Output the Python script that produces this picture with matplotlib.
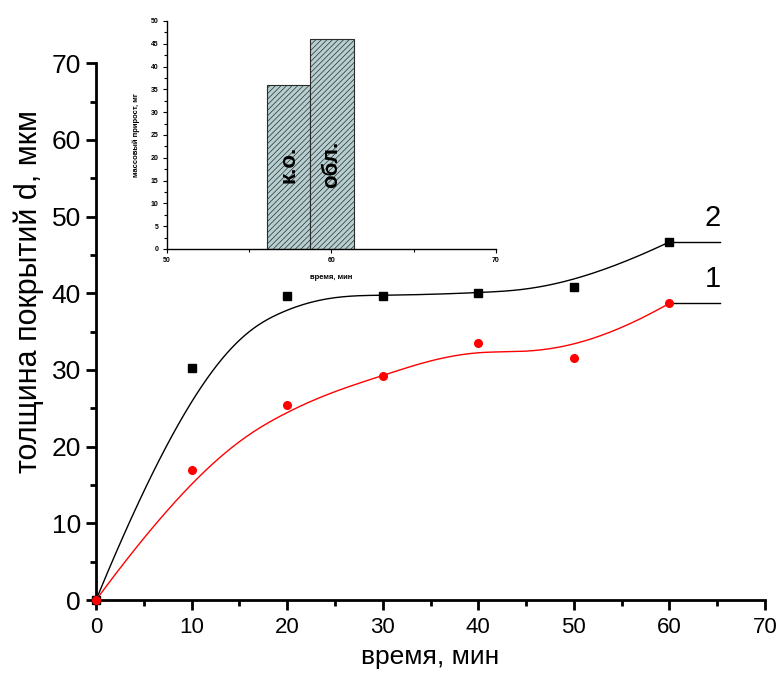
import matplotlib
matplotlib.use("Agg")
import matplotlib.pyplot as plt
import numpy as np
from matplotlib.ticker import MultipleLocator

plt.rcParams['font.family'] = ['Liberation Sans', 'DejaVu Sans']
plt.rcParams['hatch.linewidth'] = 0.5

# Data
time_min = [0, 10, 20, 30, 40, 50, 60]
thick_2 = [0, 30.3, 39.7, 39.7, 40.0, 40.8, 46.7]
thick_1 = [0, 16.9, 25.4, 29.2, 33.5, 31.6, 38.7]
curve_labels = ["1", "2"]
curve_end = 65.3

bar_left = [56.1, 58.7]
bar_width = [2.6, 2.65]
bar_mass = [36, 46]
bar_labels = ["к.о.", "обл."]


def bspline(cx, cy, k=3, n=400):
    # clamped cubic B-spline using the points as control points
    cx = np.asarray(cx, float)
    cy = np.asarray(cy, float)
    m = len(cx)
    knots = np.concatenate([np.zeros(k), np.linspace(0, 1, m - k + 1), np.ones(k)])
    t = np.linspace(0, 1, n)
    t[-1] -= 1e-9
    B = np.zeros((n, len(knots) - 1))
    for i in range(len(knots) - 1):
        B[:, i] = (t >= knots[i]) & (t < knots[i + 1])
    for d in range(1, k + 1):
        Bn = np.zeros((n, len(knots) - 1 - d))
        for i in range(len(knots) - 1 - d):
            a = knots[i + d] - knots[i]
            b = knots[i + d + 1] - knots[i + 1]
            left = (t - knots[i]) / a * B[:, i] if a > 0 else 0
            right = (knots[i + d + 1] - t) / b * B[:, i + 1] if b > 0 else 0
            Bn[:, i] = left + right
        B = Bn
    return B @ cx, B @ cy


fig = plt.figure(figsize=(7.77, 6.76), dpi=100)
ax = fig.add_axes([0.1236, 0.1124, 0.861, 0.794])

for y, col, mk, lab in [(thick_2, 'black', 's', curve_labels[1]),
                        (thick_1, 'red', 'o', curve_labels[0])]:
    sx, sy = bspline(time_min, y)
    ax.plot(sx, sy, color=col, lw=1.0)
    ax.plot(time_min, y, ls='none', marker=mk, color=col, ms=5.5, zorder=3)
    ax.plot([time_min[-1], curve_end], [y[-1], y[-1]], color='black', lw=1.0)
    ax.text(time_min[-1] + 4.5, y[-1] + 1.3, lab, fontsize=21, ha='center', va='bottom')

ax.set_xlim(0, 70)
ax.set_ylim(0, 70)
ax.xaxis.set_major_locator(MultipleLocator(10))
ax.xaxis.set_minor_locator(MultipleLocator(5))
ax.yaxis.set_major_locator(MultipleLocator(10))
ax.yaxis.set_minor_locator(MultipleLocator(5))
for s in ['top', 'right']:
    ax.spines[s].set_visible(False)
for s in ['left', 'bottom']:
    ax.spines[s].set_linewidth(2)
ax.tick_params(which='major', length=7, width=2, direction='out')
ax.tick_params(which='minor', length=4, width=2, direction='out')
ax.tick_params(axis='y', labelsize=19, pad=4)
ax.tick_params(axis='x', labelsize=16, pad=5)
ax.set_xlabel("время, мин", fontsize=19, labelpad=5)
ax.set_ylabel("толщина покрытий d, мкм", fontsize=22)
ax.yaxis.set_label_coords(-0.078, 0.575)
for ln in ax.lines:
    ln.set_clip_on(False)

# inset bar chart
ins = fig.add_axes([0.2149, 0.6317, 0.4234, 0.3373])
ins.bar(bar_left, bar_mass, width=bar_width, align='edge', color='#b6cfd1',
        edgecolor='#2b2b2b', hatch='//////', lw=0.8)
for x0, w, lab in zip(bar_left, bar_width, bar_labels):
    ins.text(x0 + w / 2, 18.6, lab, rotation=90, ha='center', va='center',
             fontsize=16, fontweight='bold')
ins.set_xlim(50, 70)
ins.set_ylim(0, 50)
ins.xaxis.set_major_locator(MultipleLocator(10))
ins.xaxis.set_minor_locator(MultipleLocator(5))
ins.yaxis.set_major_locator(MultipleLocator(5))
ins.yaxis.set_minor_locator(MultipleLocator(2.5))
for s in ['top', 'right']:
    ins.spines[s].set_visible(False)
for s in ['left', 'bottom']:
    ins.spines[s].set_linewidth(1)
ins.tick_params(which='major', length=3, width=0.8, labelsize=5, pad=3)
ins.tick_params(which='minor', length=2, width=0.8)
for lb in ins.get_xticklabels() + ins.get_yticklabels():
    lb.set_fontweight('bold')
ins.set_xlabel("время, мин", fontsize=5.5, fontweight='bold', labelpad=7)
ins.set_ylabel("массовый прирост, мг", fontsize=5.5, fontweight='bold', labelpad=8)
ins.patch.set_alpha(0)

fig.savefig("out.png", dpi=100)
